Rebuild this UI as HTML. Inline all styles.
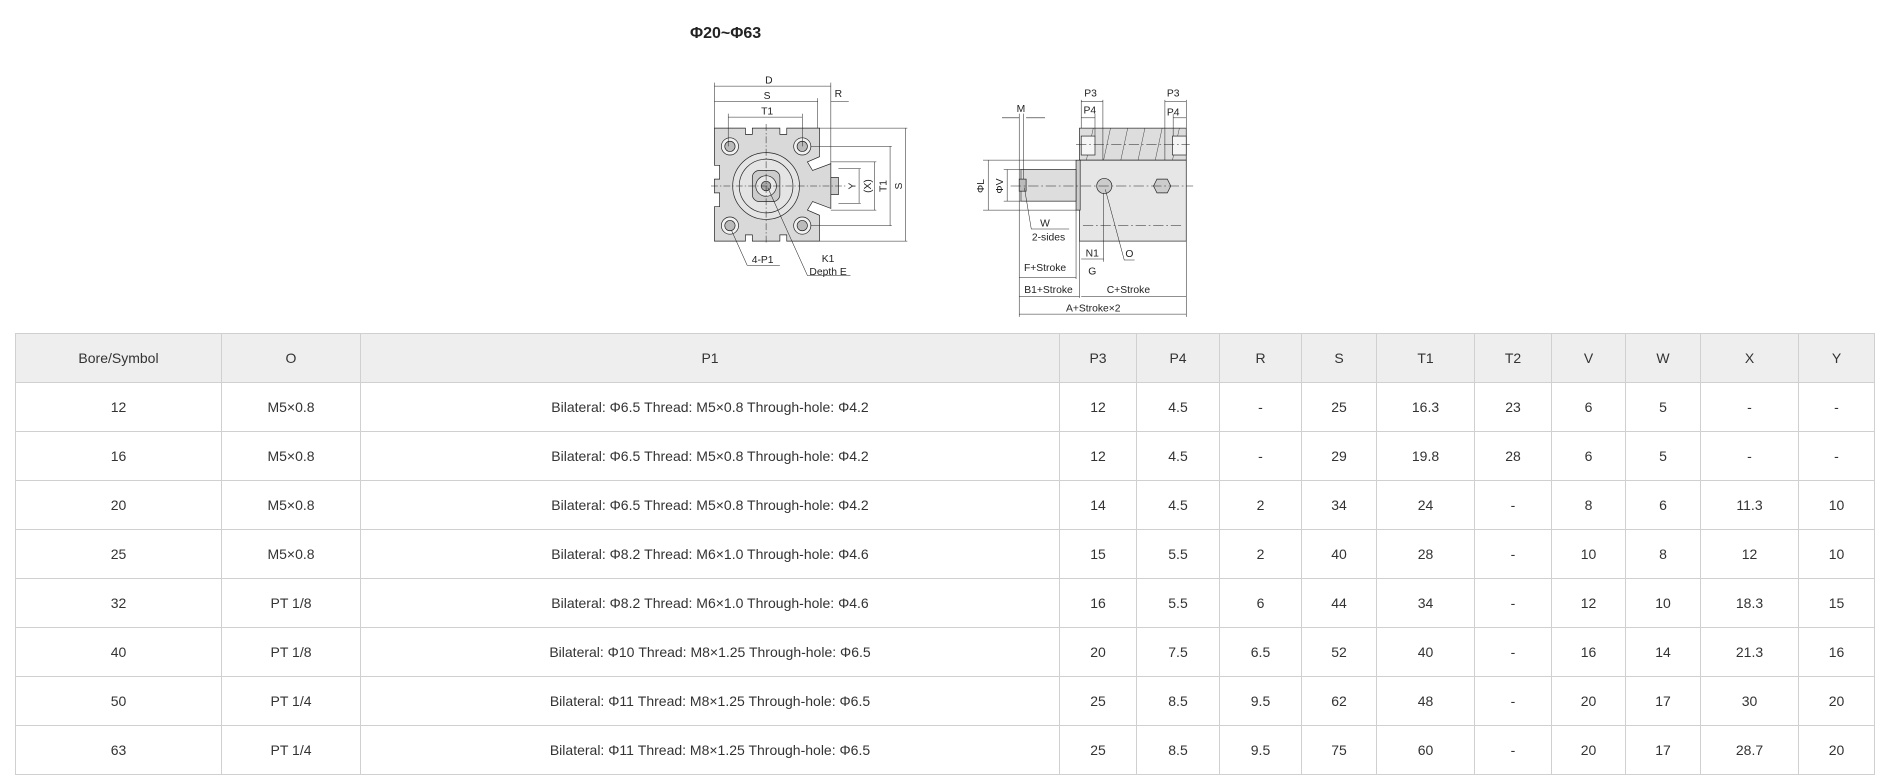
<!DOCTYPE html>
<html><head><meta charset="utf-8"><style>
html,body{margin:0;padding:0;background:#fff;width:1886px;height:781px;overflow:hidden;font-family:"Liberation Sans",sans-serif;}
#title{position:absolute;left:690px;top:25px;font-size:16px;font-weight:bold;color:#222;}
svg{position:absolute;left:680px;top:0;}
table{position:absolute;left:15px;top:333px;width:1859px;border-collapse:collapse;table-layout:fixed;font-size:14px;color:#333;}
td{border:1.5px solid #d0d0d0;text-align:center;height:48px;padding:0;box-sizing:border-box;}
tr{height:49px;}
tr.h td{background:#eeeeee;}
</style></head><body>
<div id="title">Φ20~Φ63</div>
<svg width="540" height="320" viewBox="0 0 1568 929" font-family="Liberation Sans" font-size="30" fill="none" stroke="#222" stroke-width="2">
<path d="M100,372 H190 V390 H210 V372 H290 V390 H310 V372 H405 V455 L370,470 L385,495 L438,475 V605 L385,585 L370,610 L405,625 V700 H310 V682 H290 V700 H210 V682 H190 V700 H100 V600 H115 V560 H100 V520 H115 V480 H100 Z" fill="#d9d9d9"/>
<g fill="#f2f2f2"><circle cx="145" cy="425" r="25"/><circle cx="355" cy="425" r="25"/><circle cx="145" cy="655" r="25"/><circle cx="355" cy="655" r="25"/></g>
<g fill="#bbb"><circle cx="145" cy="425" r="15"/><circle cx="355" cy="425" r="15"/><circle cx="145" cy="655" r="15"/><circle cx="355" cy="655" r="15"/></g>
<circle cx="250" cy="540" r="97" fill="#e4e4e4"/>
<circle cx="250" cy="540" r="78"/>
<rect x="210" y="495" width="80" height="90" rx="20" fill="#ccc"/>
<circle cx="250" cy="540" r="30" fill="#e8e8e8"/>
<circle cx="250" cy="540" r="14" fill="#aaa"/>
<rect x="438" y="515" width="22" height="50" fill="#ccc"/>
<g stroke-dasharray="20,6,4,6" stroke-width="1.5"><line x1="90" y1="540" x2="480" y2="540"/><line x1="250" y1="360" x2="250" y2="710"/></g>
<g stroke-width="1.5">
<line x1="100" y1="250" x2="438" y2="250"/><line x1="100" y1="240" x2="100" y2="372"/><line x1="438" y1="240" x2="438" y2="475"/>
<line x1="100" y1="295" x2="400" y2="295"/><line x1="400" y1="285" x2="400" y2="372"/>
<line x1="438" y1="295" x2="490" y2="295"/>
<line x1="140" y1="340" x2="355" y2="340"/><line x1="140" y1="330" x2="140" y2="425"/><line x1="355" y1="330" x2="355" y2="425"/>
<line x1="405" y1="372" x2="660" y2="372"/><line x1="405" y1="700" x2="660" y2="700"/><line x1="655" y1="372" x2="655" y2="700"/>
<line x1="380" y1="425" x2="615" y2="425"/><line x1="380" y1="655" x2="615" y2="655"/><line x1="610" y1="425" x2="610" y2="655"/>
<line x1="438" y1="470" x2="570" y2="470"/><line x1="438" y1="610" x2="570" y2="610"/><line x1="565" y1="470" x2="565" y2="610"/>
<line x1="460" y1="490" x2="525" y2="490"/><line x1="460" y1="590" x2="525" y2="590"/><line x1="520" y1="490" x2="520" y2="590"/>
<polyline points="150,670 195,770 290,770"/><polyline points="255,545 370,800 495,800"/>
</g>
<g fill="#222" stroke="none" text-anchor="middle">
<text x="258" y="243">D</text><text x="253" y="288">S</text><text x="253" y="333">T1</text><text x="460" y="282">R</text>
<text x="240" y="764">4-P1</text><text x="430" y="760">K1</text><text x="430" y="798">Depth E</text>
<text transform="translate(510,540) rotate(-90)">Y</text><text transform="translate(555,540) rotate(-90)">(X)</text>
<text transform="translate(600,540) rotate(-90)">T1</text><text transform="translate(645,540) rotate(-90)">S</text>
</g>
<rect x="1160" y="372" width="310" height="93" fill="#ddd"/>
<g stroke-width="1.2"><path d="M1180,465 l20,-93 M1230,465 l20,-93 M1280,465 l20,-93 M1330,465 l20,-93 M1380,465 l20,-93 M1430,465 l20,-93"/></g>
<rect x="1165" y="395" width="40" height="55" fill="#f5f5f5"/><rect x="1430" y="395" width="40" height="55" fill="#f5f5f5"/>
<rect x="1160" y="465" width="310" height="235" fill="#e6e6e6"/>
<rect x="1150" y="465" width="12" height="145" fill="#ccc"/>
<rect x="990" y="492" width="160" height="92" fill="#ddd"/>
<rect x="985" y="520" width="20" height="35" fill="#bbb"/>
<circle cx="1232" cy="540" r="22" fill="#ccc"/>
<polygon points="1385,520 1415,520 1425,540 1415,560 1385,560 1375,540" fill="#ccc"/>
<g stroke-dasharray="30,8,5,8" stroke-width="1.5"><line x1="960" y1="540" x2="1490" y2="540"/><line x1="1150" y1="420" x2="1480" y2="420"/><line x1="1170" y1="655" x2="1460" y2="655"/></g>
<g stroke-width="1.5">
<line x1="880" y1="465" x2="1150" y2="465"/><line x1="880" y1="610" x2="1150" y2="610"/><line x1="895" y1="465" x2="895" y2="610"/>
<line x1="940" y1="492" x2="990" y2="492"/><line x1="940" y1="584" x2="990" y2="584"/><line x1="950" y1="492" x2="950" y2="584"/>
<line x1="935" y1="342" x2="985" y2="342"/><line x1="1005" y1="342" x2="1060" y2="342"/><line x1="985" y1="330" x2="985" y2="920"/><line x1="998" y1="330" x2="998" y2="520"/>
<line x1="1165" y1="290" x2="1165" y2="372"/><line x1="1228" y1="290" x2="1228" y2="465"/><line x1="1165" y1="295" x2="1228" y2="295"/><line x1="1165" y1="342" x2="1205" y2="342"/><line x1="1205" y1="330" x2="1205" y2="395"/>
<line x1="1408" y1="290" x2="1408" y2="465"/><line x1="1470" y1="290" x2="1470" y2="920"/><line x1="1408" y1="295" x2="1470" y2="295"/><line x1="1432" y1="342" x2="1470" y2="342"/><line x1="1432" y1="330" x2="1432" y2="395"/>
<line x1="1160" y1="700" x2="1160" y2="865"/><line x1="1230" y1="560" x2="1230" y2="760"/><line x1="1165" y1="752" x2="1230" y2="752"/>
<line x1="985" y1="805" x2="1150" y2="805"/><line x1="1150" y1="610" x2="1150" y2="810"/>
<line x1="985" y1="860" x2="1160" y2="860"/><line x1="1165" y1="860" x2="1470" y2="860"/>
<line x1="985" y1="912" x2="1470" y2="912"/>
<polyline points="1000,545 1020,665 1130,665"/><polyline points="1235,550 1290,755 1320,755"/>
</g>
<g fill="#222" stroke="none" text-anchor="middle">
<text x="990" y="325">M</text><text x="1192" y="280">P3</text><text x="1190" y="330">P4</text><text x="1432" y="280">P3</text><text x="1432" y="335">P4</text>
<text transform="translate(883,540) rotate(-90)">ΦL</text><text transform="translate(938,540) rotate(-90)">ΦV</text>
<text x="1060" y="658">W</text><text x="1070" y="698">2-sides</text>
<text x="1197" y="745">N1</text><text x="1305" y="746">O</text><text x="1060" y="787">F+Stroke</text><text x="1197" y="797">G</text>
<text x="1070" y="850">B1+Stroke</text><text x="1302" y="850">C+Stroke</text><text x="1200" y="905">A+Stroke×2</text>
</g>
</svg>
<table>
<colgroup><col style="width:206px"><col style="width:139px"><col style="width:699px"><col style="width:77px"><col style="width:83px"><col style="width:82px"><col style="width:75px"><col style="width:98px"><col style="width:77px"><col style="width:74px"><col style="width:75px"><col style="width:98px"><col style="width:76px"></colgroup>
<tr class="h"><td>Bore/Symbol</td><td>O</td><td>P1</td><td>P3</td><td>P4</td><td>R</td><td>S</td><td>T1</td><td>T2</td><td>V</td><td>W</td><td>X</td><td>Y</td></tr>
<tr><td>12</td><td>M5×0.8</td><td>Bilateral: Φ6.5 Thread: M5×0.8 Through-hole: Φ4.2</td><td>12</td><td>4.5</td><td>-</td><td>25</td><td>16.3</td><td>23</td><td>6</td><td>5</td><td>-</td><td>-</td></tr>
<tr><td>16</td><td>M5×0.8</td><td>Bilateral: Φ6.5 Thread: M5×0.8 Through-hole: Φ4.2</td><td>12</td><td>4.5</td><td>-</td><td>29</td><td>19.8</td><td>28</td><td>6</td><td>5</td><td>-</td><td>-</td></tr>
<tr><td>20</td><td>M5×0.8</td><td>Bilateral: Φ6.5 Thread: M5×0.8 Through-hole: Φ4.2</td><td>14</td><td>4.5</td><td>2</td><td>34</td><td>24</td><td>-</td><td>8</td><td>6</td><td>11.3</td><td>10</td></tr>
<tr><td>25</td><td>M5×0.8</td><td>Bilateral: Φ8.2 Thread: M6×1.0 Through-hole: Φ4.6</td><td>15</td><td>5.5</td><td>2</td><td>40</td><td>28</td><td>-</td><td>10</td><td>8</td><td>12</td><td>10</td></tr>
<tr><td>32</td><td>PT 1/8</td><td>Bilateral: Φ8.2 Thread: M6×1.0 Through-hole: Φ4.6</td><td>16</td><td>5.5</td><td>6</td><td>44</td><td>34</td><td>-</td><td>12</td><td>10</td><td>18.3</td><td>15</td></tr>
<tr><td>40</td><td>PT 1/8</td><td>Bilateral: Φ10 Thread: M8×1.25 Through-hole: Φ6.5</td><td>20</td><td>7.5</td><td>6.5</td><td>52</td><td>40</td><td>-</td><td>16</td><td>14</td><td>21.3</td><td>16</td></tr>
<tr><td>50</td><td>PT 1/4</td><td>Bilateral: Φ11 Thread: M8×1.25 Through-hole: Φ6.5</td><td>25</td><td>8.5</td><td>9.5</td><td>62</td><td>48</td><td>-</td><td>20</td><td>17</td><td>30</td><td>20</td></tr>
<tr><td>63</td><td>PT 1/4</td><td>Bilateral: Φ11 Thread: M8×1.25 Through-hole: Φ6.5</td><td>25</td><td>8.5</td><td>9.5</td><td>75</td><td>60</td><td>-</td><td>20</td><td>17</td><td>28.7</td><td>20</td></tr>
</table>
</body></html>
